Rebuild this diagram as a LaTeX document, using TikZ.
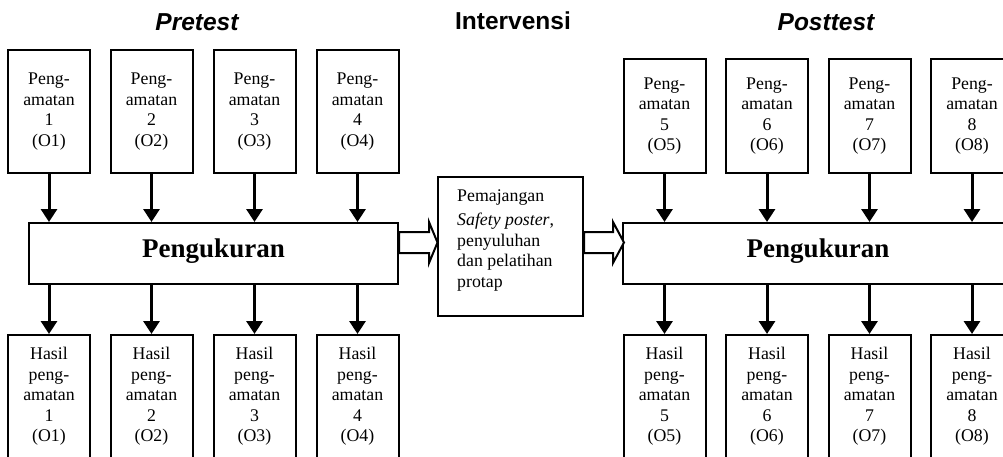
\documentclass[tikz,border=0pt]{standalone}
\usepackage{fontspec}
\setmainfont{Liberation Serif}
\newfontfamily\arialfont{Liberation Sans}
\usetikzlibrary{arrows.meta}
\begin{document}
\begin{tikzpicture}[x=1pt,y=-1pt,
  obsbox/.style={draw, line width=2pt, minimum width=82pt, inner sep=0pt,
    align=center, font=\fontsize{17.8}{20.5}\selectfont},
  bigbox/.style={draw, line width=2pt, minimum height=61pt, inner sep=0pt,
    text depth=10pt, font=\fontsize{27}{30}\selectfont\bfseries},
  intbox/.style={draw, line width=2pt, minimum width=145pt, minimum height=139pt},
  inttext/.style={inner sep=0pt, align=left, font=\fontsize{17.8}{20.5}\selectfont},
  titletext/.style={anchor=base, inner sep=0pt, font=\fontsize{24.5}{28}\selectfont\arialfont\bfseries},
  arr/.style={line width=3pt, -{Triangle[length=13pt,width=16pt]}},
  blk/.style={draw, fill=white, line width=2pt, line join=miter}]
\useasboundingbox (0,0) rectangle (1003,456);
\clip (0,0) rectangle (1003,456);
\fill[white] (0,0) rectangle (1003,456);

% titles
\node[titletext] (pre) at (197,30) {\itshape Pretest};
\node[titletext] (intv) at (513,29) {Intervensi};
\node[titletext] (post) at (826,30) {\itshape Posttest};

% big boxes
\node[bigbox, minimum width=369pt] (L) at (213.5,253.5) {Pengukuran};
\node[bigbox, minimum width=390pt] (R) at (818,253.5) {Pengukuran};

% intervention box
\node[intbox] (int) at (510.5,246.5) {};
\node[inttext, anchor=north west] (inttxt) at (457,190)
  {Pemajangan\\[3.5pt]\textit{Safety poster},\\penyuluhan\\dan pelatihan\\protap};

% top boxes pretest
\node[obsbox, minimum height=123pt] (t1) at (49,111.5) {Peng-\\amatan\\1\\(O1)};
\node[obsbox, minimum height=123pt] (t2) at (151.5,111.5) {Peng-\\amatan\\2\\(O2)};
\node[obsbox, minimum height=123pt] (t3) at (254.5,111.5) {Peng-\\amatan\\3\\(O3)};
\node[obsbox, minimum height=123pt] (t4) at (357.5,111.5) {Peng-\\amatan\\4\\(O4)};

% top boxes posttest
\node[obsbox, minimum height=114pt] (t5) at (664.5,116) {Peng-\\amatan\\5\\(O5)};
\node[obsbox, minimum height=114pt] (t6) at (767,116) {Peng-\\amatan\\6\\(O6)};
\node[obsbox, minimum height=114pt] (t7) at (869.5,116) {Peng-\\amatan\\7\\(O7)};
\node[obsbox, minimum height=114pt] (t8) at (972,116) {Peng-\\amatan\\8\\(O8)};

% bottom boxes pretest
\node[obsbox, minimum height=123pt] (b1) at (49,396.5) {Hasil\\peng-\\amatan\\1\\(O1)};
\node[obsbox, minimum height=123pt] (b2) at (151.5,396.5) {Hasil\\peng-\\amatan\\2\\(O2)};
\node[obsbox, minimum height=123pt] (b3) at (254.5,396.5) {Hasil\\peng-\\amatan\\3\\(O3)};
\node[obsbox, minimum height=123pt] (b4) at (357.5,396.5) {Hasil\\peng-\\amatan\\4\\(O4)};

% bottom boxes posttest
\node[obsbox, minimum height=123pt] (b5) at (664.5,396.5) {Hasil\\peng-\\amatan\\5\\(O5)};
\node[obsbox, minimum height=123pt] (b6) at (767,396.5) {Hasil\\peng-\\amatan\\6\\(O6)};
\node[obsbox, minimum height=123pt] (b7) at (869.5,396.5) {Hasil\\peng-\\amatan\\7\\(O7)};
\node[obsbox, minimum height=123pt] (b8) at (972,396.5) {Hasil\\peng-\\amatan\\8\\(O8)};

% arrows into and out of Pengukuran
\foreach \i in {1,2,3,4} {
  \draw[arr] (t\i.south) -- (t\i.south |- L.north);
  \draw[arr] (b\i.north |- L.south) -- (b\i.north);
}
\foreach \i in {5,6,7,8} {
  \draw[arr] (t\i.south) -- (t\i.south |- R.north);
  \draw[arr] (b\i.north |- R.south) -- (b\i.north);
}

% block arrows
\path (L.east) ++(0,-11) coordinate (la);
\draw[blk] (la) ++(0,-10.5) -- ++(30,0) -- ++(0,-10) -- ++(8.5,20.5)
  -- ++(-8.5,20.5) -- ++(0,-10) -- ++(-30,0) -- cycle;
\path (int.east) ++(0,-4) coordinate (ra);
\draw[blk] (ra) ++(0,-10.5) -- ++(29,0) -- ++(0,-10) -- ++(11,20.5)
  -- ++(-11,20.5) -- ++(0,-10) -- ++(-29,0) -- cycle;
\end{tikzpicture}
\end{document}
